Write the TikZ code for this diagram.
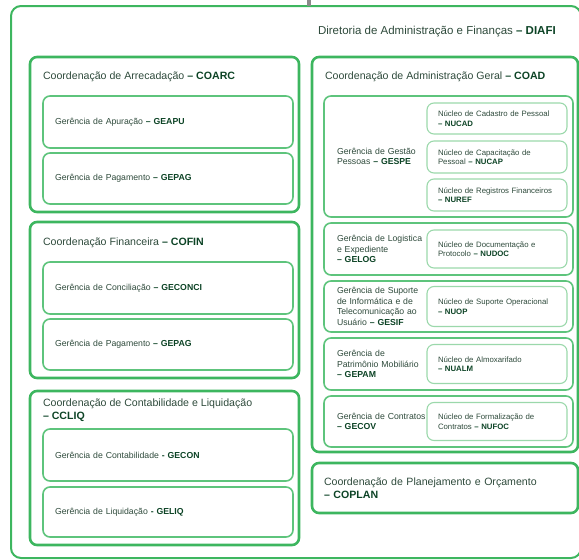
\documentclass[tikz,border=0pt]{standalone}
\usepackage{fontspec}
\setmainfont{Liberation Sans}
\usepackage{xcolor}
\usepackage{tikz}
\usetikzlibrary{positioning}

\definecolor{diafigreen}{HTML}{3DB65F}
\definecolor{gergreen}{HTML}{5EC47C}
\definecolor{nucgreen}{HTML}{9BD8AB}
\definecolor{txtgray}{HTML}{2E4A3B}
\definecolor{txtdark}{HTML}{0C4325}
\definecolor{linkgray}{HTML}{8A8A8A}

\newcommand{\sigla}[1]{{\color{txtdark}\bfseries #1}}

\begin{document}
\begin{tikzpicture}[x=1pt,y=-1pt]
  \tikzset{Diretoria/.style={rectangle, draw=diafigreen, line width=2pt, rounded corners=10pt, outer sep=0pt, inner sep=0pt}};
  \tikzset{Coord/.style={rectangle, draw=diafigreen, line width=2.6pt, rounded corners=7pt, outer sep=0pt, inner sep=0pt, minimum width=269pt}};
  \tikzset{CoordTxt/.style={Coord, minimum width=266pt, text width=242pt, inner xsep=12pt, align=left, text=txtgray, font=\fontsize{10.6}{13}\selectfont}};
  \tikzset{DirTitle/.style={inner sep=0pt, outer sep=0pt, text=txtgray, font=\fontsize{11.5}{13}\selectfont}};
  \tikzset{CoordTitle/.style={inner sep=0pt, outer sep=0pt, align=left, text=txtgray, font=\fontsize{10.6}{13}\selectfont}};
  \tikzset{Ger/.style={rectangle, draw=gergreen, line width=1.6pt, rounded corners=7pt, outer sep=0pt, inner ysep=0pt, inner xsep=12pt, minimum width=250pt, text width=226pt, align=left, text=txtgray, font=\fontsize{8.7}{10.5}\selectfont}};
  \tikzset{GerG/.style={Ger, minimum width=249pt, text width=223pt, inner xsep=13pt}};
  \tikzset{Nuc/.style={rectangle, draw=nucgreen, line width=1.1pt, rounded corners=7pt, outer sep=0pt, inner ysep=0pt, inner xsep=11pt, minimum width=140pt, text width=118pt, align=left, text=txtgray, font=\fontsize{7.8}{9.4}\selectfont}};
  \useasboundingbox (0,0) rectangle (579,560);
  % diretoria
  \node[Diretoria, minimum width=570pt, minimum height=552pt, anchor=north west] (diafi) at (11,6) {};
  \coordinate (topo) at (309,0);
  \draw[linkgray, line width=3.5pt] (topo) -- (topo |- diafi.north);
  \node[DirTitle, anchor=west] (diafit) at (318,32) {Diretoria de Administração e Finanças \sigla{– DIAFI}};
  % coluna esquerda
  \node[Coord, minimum height=155pt, anchor=north west] (coarc) at (30,57) {};
  \node[CoordTitle, anchor=west] (coarct) at ([xshift=13pt,yshift=-20pt]coarc.north west) {Coordenação de Arrecadação \sigla{– COARC}};
  \node[Ger, minimum height=52pt, anchor=north west] (geapu) at ([xshift=13pt,yshift=-39pt]coarc.north west) {Gerência de Apuração \sigla{– GEAPU}};
  \node[Ger, minimum height=51pt][below=5pt of geapu] (gepag) {Gerência de Pagamento \sigla{– GEPAG}};
  \node[Coord, minimum height=156pt][below=10pt of coarc] (cofin) {};
  \node[CoordTitle, anchor=west] (cofint) at ([xshift=13pt,yshift=-21pt]cofin.north west) {Coordenação Financeira \sigla{– COFIN}};
  \node[Ger, minimum height=52pt, anchor=north west] (geconci) at ([xshift=13pt,yshift=-40pt]cofin.north west) {Gerência de Conciliação \sigla{– GECONCI}};
  \node[Ger, minimum height=51pt][below=5pt of geconci] (gepagb) {Gerência de Pagamento \sigla{– GEPAG}};
  \node[Coord, minimum height=154pt][below=13pt of cofin] (ccliq) {};
  \node[CoordTitle, anchor=west] (ccliqt) at ([xshift=13pt,yshift=-19.5pt]ccliq.north west) {Coordenação de Contabilidade e Liquidação\\\sigla{– CCLIQ}};
  \node[Ger, minimum height=52pt, anchor=north west] (gecon) at ([xshift=13pt,yshift=-38pt]ccliq.north west) {Gerência de Contabilidade \sigla{- GECON}};
  \node[Ger, minimum height=50pt][below=6pt of gecon] (geliq) {Gerência de Liquidação \sigla{- GELIQ}};
  % coluna direita
  \node[Coord, minimum width=266pt, minimum height=395pt, anchor=north west] (coad) at (312,57) {};
  \node[CoordTitle, anchor=west] (coadt) at ([xshift=13pt,yshift=-20pt]coad.north west) {Coordenação de Administração Geral \sigla{– COAD}};
  \node[GerG, minimum height=121pt, anchor=north west] (gespe) at ([xshift=12pt,yshift=-39pt]coad.north west) {Gerência de Gestão\\Pessoas \sigla{– GESPE}};
  \node[Nuc, minimum height=31pt, anchor=north east] (nucad) at ([xshift=-6pt,yshift=-7pt]gespe.north east) {Núcleo de Cadastro de Pessoal\\\sigla{– NUCAD}};
  \node[Nuc, minimum height=32pt][below=7pt of nucad] (nucap) {Núcleo de Capacitação de\\Pessoal \sigla{– NUCAP}};
  \node[Nuc, minimum height=32pt][below=6pt of nucap] (nuref) {Núcleo de Registros Financeiros\\\sigla{– NUREF}};
  \node[GerG, minimum height=52pt][below=6pt of gespe] (gelog) {Gerência de Logistica\\e Expediente\\\sigla{– GELOG}};
  \node[Nuc, minimum height=38pt, anchor=east] (nudoc) at ([xshift=-6pt]gelog.east) {Núcleo de Documentação e\\Protocolo \sigla{– NUDOC}};
  \node[GerG, minimum height=51pt][below=6pt of gelog] (gesif) {Gerência de Suporte\\de Informática e de\\Telecomunicação ao\\Usuário \sigla{– GESIF}};
  \node[Nuc, minimum height=40pt, anchor=east] (nuop) at ([xshift=-6pt]gesif.east) {Núcleo de Suporte Operacional\\\sigla{– NUOP}};
  \node[GerG, minimum height=52pt][below=6pt of gesif] (gepam) {Gerência de\\Patrimônio Mobiliário\\\sigla{– GEPAM}};
  \node[Nuc, minimum height=39pt, anchor=east] (nualm) at ([xshift=-6pt]gepam.east) {Núcleo de Almoxarifado\\\sigla{– NUALM}};
  \node[GerG, minimum height=51pt][below=6pt of gepam] (gecov) {Gerência de Contratos\\\sigla{– GECOV}};
  \node[Nuc, minimum height=38pt, anchor=east] (nufoc) at ([xshift=-6pt]gecov.east) {Núcleo de Formalização de\\Contratos \sigla{– NUFOC}};
  \node[CoordTxt, minimum height=50pt][below=11pt of coad] (coplan) {Coordenação de Planejamento e Orçamento\\\sigla{– COPLAN}};
\end{tikzpicture}
\end{document}
